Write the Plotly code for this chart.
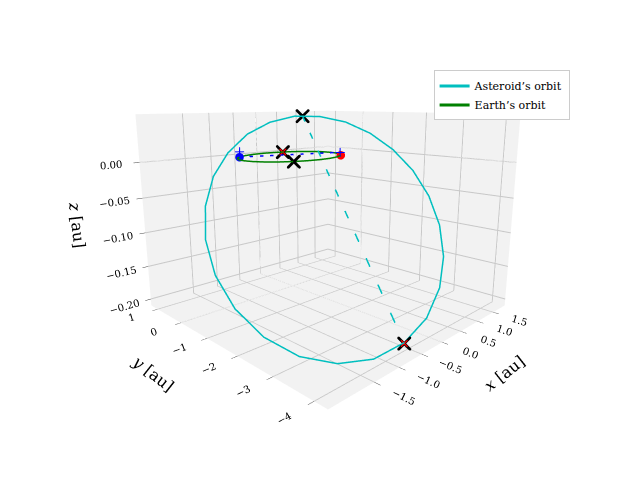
import plotly.graph_objects as go

# Asteroid orbit samples (au)
ast_x = [-0.599, -0.073, 0.441, 0.911, 1.303, 1.591, 1.755, 1.785, 1.677, 1.439, 1.089, 0.649,
         0.149, -0.377, -0.891, -1.361, -1.753, -2.041, -2.205, -2.235, -2.127, -1.889, -1.539, -1.099, -0.599]
ast_y = [-4.000, -3.993, -3.816, -3.481, -3.013, -2.441, -1.805, -1.149, -0.517, 0.047, 0.506, 0.827,
         0.990, 0.983, 0.806, 0.471, 0.003, -0.569, -1.205, -1.861, -2.493, -3.057, -3.516, -3.837, -4.000]
ast_z = [-0.199, -0.182, -0.157, -0.128, -0.094, -0.059, -0.025, 0.005, 0.030, 0.048, 0.057, 0.058,
         0.049, 0.032, 0.007, -0.022, -0.056, -0.091, -0.125, -0.155, -0.180, -0.198, -0.207, -0.208, -0.199]

# Earth orbit samples (au)
earth_x = [1.0, 0.966, 0.866, 0.707, 0.5, 0.259, 0.0, -0.259, -0.5, -0.707, -0.866, -0.966,
           -1.0, -0.966, -0.866, -0.707, -0.5, -0.259, 0.0, 0.259, 0.5, 0.707, 0.866, 0.966, 1.0]
earth_y = [0.0, 0.259, 0.5, 0.707, 0.866, 0.966, 1.0, 0.966, 0.866, 0.707, 0.5, 0.259,
           0.0, -0.259, -0.5, -0.707, -0.866, -0.966, -1.0, -0.966, -0.866, -0.707, -0.5, -0.259, 0.0]
earth_z = [0.0] * 25

# Positions
blue_dot = (-0.72, 0.69, 0.0)
red_dot = (0.75, -0.66, 0.0)
blue_plus = ([0.70, -0.70], [-0.70, 0.72], [0.005, 0.008])
black_x = ([0.8, -0.5], [0.75, -0.87], [0.058, 0.0])
red_x = ([0.4, -0.6], [0.92, -4.0], [0.0, -0.2])
cyan_dash = ([0.8, -0.6], [0.75, -4.0], [0.058, -0.2])
blue_dash = ([blue_dot[0], 0.70], [blue_dot[1], -0.70], [0.0, 0.005])

fig = go.Figure()
fig.add_trace(go.Scatter3d(x=ast_x, y=ast_y, z=ast_z, mode="lines",
                           line=dict(color="#00bfbf", width=3), name="Asteroid’s orbit"))
fig.add_trace(go.Scatter3d(x=earth_x, y=earth_y, z=earth_z, mode="lines",
                           line=dict(color="green", width=3), name="Earth’s orbit"))
fig.add_trace(go.Scatter3d(x=cyan_dash[0], y=cyan_dash[1], z=cyan_dash[2], mode="lines",
                           line=dict(color="#00bfbf", width=3, dash="longdash"), showlegend=False))
fig.add_trace(go.Scatter3d(x=blue_dash[0], y=blue_dash[1], z=blue_dash[2], mode="lines",
                           line=dict(color="blue", width=3, dash="longdash"), showlegend=False))
fig.add_trace(go.Scatter3d(x=[blue_dot[0]], y=[blue_dot[1]], z=[blue_dot[2]], mode="markers",
                           marker=dict(color="blue", size=5), showlegend=False))
fig.add_trace(go.Scatter3d(x=[red_dot[0]], y=[red_dot[1]], z=[red_dot[2]], mode="markers",
                           marker=dict(color="red", size=5), showlegend=False))
fig.add_trace(go.Scatter3d(x=blue_plus[0], y=blue_plus[1], z=blue_plus[2], mode="markers",
                           marker=dict(color="blue", size=5, symbol="cross"), showlegend=False))
fig.add_trace(go.Scatter3d(x=black_x[0] + red_x[0], y=black_x[1] + red_x[1], z=black_x[2] + red_x[2],
                           mode="markers", marker=dict(color="black", size=3.2, symbol="x"),
                           showlegend=False))
fig.add_trace(go.Scatter3d(x=red_x[0], y=red_x[1], z=red_x[2], mode="markers",
                           marker=dict(color="red", size=1.6, symbol="x"), showlegend=False))

ax = dict(showbackground=True, backgroundcolor="#f2f2f2", gridcolor="#c8c8c8",
          showspikes=False, ticks="outside", tickfont=dict(size=11))
fig.update_layout(
    width=640, height=480, paper_bgcolor="white",
    font=dict(family="DejaVu Serif", color="black", size=12),
    margin=dict(l=0, r=0, t=0, b=0),
    legend=dict(x=0.665, y=0.87, bordercolor="#cccccc", borderwidth=1, font=dict(size=11)),
    scene=dict(
        domain=dict(x=[0.0, 1.0], y=[0.12, 1.0]),
        aspectmode="manual", aspectratio=dict(x=1, y=1, z=0.75),
        xaxis=dict(ax, title=dict(text="<i>x</i> [au]", font=dict(size=16)), range=[-2.3, 1.9],
                   tickvals=[-1.5, -1.0, -0.5, 0.0, 0.5, 1.0, 1.5],
                   ticktext=["−1.5", "−1.0", "−0.5", "0.0", "0.5", "1.0", "1.5"]),
        yaxis=dict(ax, title=dict(text="<i>y</i> [au]", font=dict(size=16)), range=[-4.3, 1.3],
                   tickvals=[-4, -3, -2, -1, 0, 1], ticktext=["−4", "−3", "−2", "−1", "0", "1"]),
        zaxis=dict(ax, title=dict(text="<i>z</i> [au]", font=dict(size=16)), range=[-0.21, 0.065],
                   tickvals=[-0.2, -0.15, -0.1, -0.05, 0.0],
                   ticktext=["−0.20", "−0.15", "−0.10", "−0.05", "0.00"]),
        camera=dict(eye=dict(x=-1.35, y=-1.35, z=0.42), center=dict(x=0, y=0, z=-0.02)),
    ),
)
fig.write_html("out.html")
